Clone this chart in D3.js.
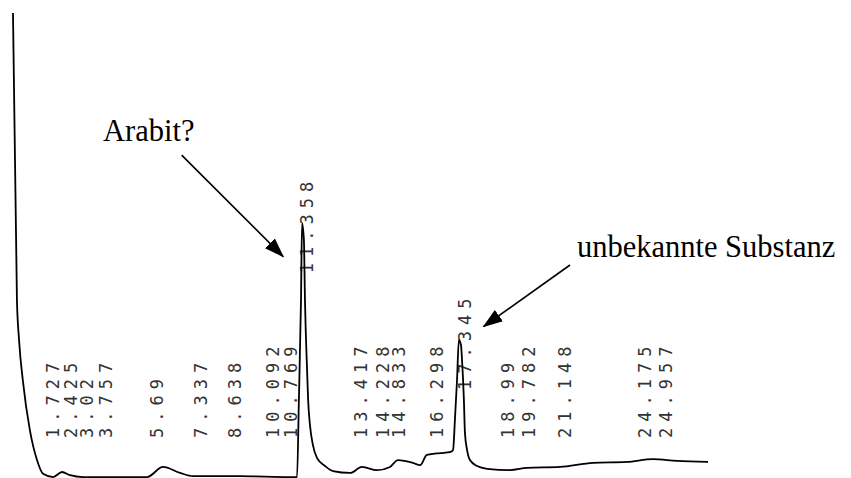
<!DOCTYPE html>
<html>
<head>
<meta charset="utf-8">
<script src="https://cdn.jsdelivr.net/npm/d3@7"></script>
<style>
  html, body { margin: 0; padding: 0; background: #fff; }
  svg { display: block; }
</style>
</head>
<body>
<svg id="chart" width="851" height="478"></svg>
<script>
// Retention time (min) of trace samples
const traceTime = [0.34, 0.49, 0.57, 0.72, 0.98, 1.25, 1.48, 1.86, 2.20, 2.50, 2.99, 5.42, 6.02, 6.67, 7.16, 8.94, 10.83, 11.10, 11.17, 11.25, 11.29, 11.36, 11.40, 11.48, 11.52, 11.59, 11.70, 11.86, 12.16, 12.46, 13.11, 13.56, 14.13, 14.62, 14.92, 15.49, 15.76, 16.02, 16.52, 16.89, 17.01, 17.08, 17.16, 17.23, 17.31, 17.35, 17.42, 17.46, 17.54, 17.65, 17.92, 18.30, 19.17, 19.81, 21.06, 22.31, 23.60, 24.58, 25.49, 26.67];
// Detector signal (arbitrary units)
const traceSignal = [99.8, 37.4, 28.7, 19.6, 9.1, 2.6, -0.4, -1.1, 0.0, -0.7, -1.1, -1.1, 1.1, -0.2, -0.9, -0.9, -1.1, -1.1, 15.7, 37.4, 54.1, 50.4, 37.4, 22.2, 15.7, 10.2, 5.9, 3.0, 1.3, 0.2, -0.2, 1.1, 0.4, 1.1, 2.6, 2.0, 1.5, 3.7, 4.1, 4.3, 4.8, 11.3, 20.0, 28.7, 27.6, 24.3, 15.7, 8.5, 4.8, 2.6, 1.3, 0.7, 0.4, 0.9, 1.1, 2.0, 2.2, 2.8, 2.4, 2.2];

// Peak retention time labels printed by the integrator
const peakLabels = ["1.727", "2.425", "3.02", "3.757", "5.69", "7.337", "8.638", "10.092", "10.769", "11.358", "13.417", "14.228", "14.833", "16.298", "17.345", "18.99", "19.782", "21.148", "24.175", "24.957"];

// Annotations (text, text anchor point, arrow start, arrow tip) in data units
const annoText = ["Arabit?", "unbekannte Substanz"];
const annoTextTime = [3.75, 21.7];
const annoTextSignal = [72.0, 46.7];
const annoFromTime = [6.73, 21.44];
const annoFromSignal = [68.9, 45.0];
const annoToTime = [10.58, 18.16];
const annoToSignal = [46.8, 31.6];

const svg = d3.select("#chart");

const x = d3.scaleLinear().domain([0, 25]).range([4, 4 + 25 * 26.4]);
const y = d3.scaleLinear().domain([0, 100]).range([472, 12]);

const trace = traceTime.map((t, i) => ({ t, s: traceSignal[i] }));

// Arrow marker
svg.append("defs").append("marker")
  .attr("id", "arrow")
  .attr("viewBox", "0 0 20 14")
  .attr("refX", 19).attr("refY", 7)
  .attr("markerWidth", 20).attr("markerHeight", 14)
  .attr("markerUnits", "userSpaceOnUse")
  .attr("orient", "auto")
  .append("path").attr("d", "M0,0 L20,7 L0,14 Z").attr("fill", "#000");

// Peak labels (rotated, dot-matrix style)
const labelG = svg.append("g");
peakLabels.forEach(lbl => {
  const t = +lbl;
  const near = trace.filter(d => Math.abs(d.t - t) <= 0.25);
  const apex = near.length ? d3.max(near, d => d.s) : 0;
  const startY = Math.min(y(apex) + 50, 438);
  labelG.append("text")
    .attr("transform", `translate(${x(t) + 9},${startY}) rotate(-90)`)
    .attr("font-family", "'DejaVu Sans Mono', 'Liberation Mono', monospace")
    .attr("font-size", 17)
    .attr("letter-spacing", 6.0)
    .attr("fill", "#333")
    .text(lbl);
});

// Chromatogram trace
const line = d3.line().x(d => x(d.t)).y(d => y(d.s)).curve(d3.curveMonotoneX);
svg.append("path")
  .datum(trace)
  .attr("d", line)
  .attr("fill", "none")
  .attr("stroke", "#000")
  .attr("stroke-width", 1.8)
  .attr("stroke-linejoin", "round");

// Annotations
annoText.forEach((txt, i) => {
  svg.append("text")
    .attr("x", x(annoTextTime[i]))
    .attr("y", y(annoTextSignal[i]))
    .attr("font-family", "'Liberation Serif', 'Times New Roman', serif")
    .attr("font-size", 30.5)
    .attr("fill", "#000")
    .text(txt);
  svg.append("line")
    .attr("x1", x(annoFromTime[i])).attr("y1", y(annoFromSignal[i]))
    .attr("x2", x(annoToTime[i])).attr("y2", y(annoToSignal[i]))
    .attr("stroke", "#000").attr("stroke-width", 1.6)
    .attr("marker-end", "url(#arrow)");
});
</script>
</body>
</html>
